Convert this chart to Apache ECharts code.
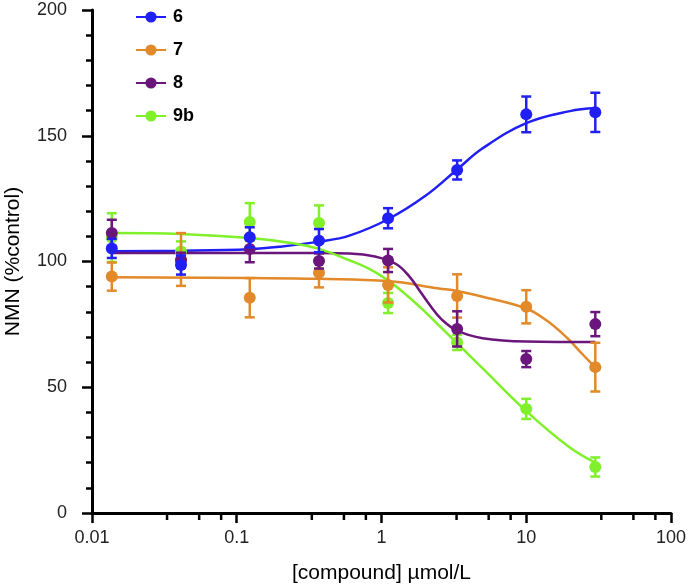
<!DOCTYPE html>
<html><head><meta charset="utf-8">
<script src="https://cdn.jsdelivr.net/npm/echarts@6/dist/echarts.min.js"></script>
<style>html,body{margin:0;padding:0;background:#fff}#c{width:689px;height:586px}</style>
</head><body><div id="c"></div>
<script>
// ---- data ----
const seriesNames = ['6', '7', '8', '9b'];
const seriesColors = ['#2020f6', '#e2892a', '#6a167c', '#7ff02a'];
const concentrations = [0.0137, 0.0412, 0.123, 0.370, 1.11, 3.33, 10, 30];

const values6 = [105.2, 98.6, 109.6, 108.3, 117.2, 136.4, 158.5, 159.3];
const errors6 = [3.8, 3.8, 4.0, 4.6, 4.0, 3.8, 7.1, 7.8];
const values7 = [94.0, 100.8, 85.6, 95.5, 90.7, 86.3, 82.0, 58.0];
const errors7 = [5.6, 10.5, 7.8, 5.8, 7.0, 8.6, 6.6, 9.7];
const values8 = [111.3, 100.5, 105.0, 100.2, 100.4, 73.2, 61.2, 75.1];
const errors8 = [5.3, 3.0, 5.3, 3.0, 4.6, 7.0, 3.2, 4.8];
const values9b = [109.5, 104.0, 115.7, 115.3, 83.5, 67.8, 41.4, 18.3];
const errors9b = [9.7, 4.0, 7.5, 7.0, 4.0, 3.0, 4.0, 3.8];

// fitted curves
const curveX6 = [0.0137, 0.041, 0.123, 0.2, 0.37, 0.6, 1.11, 2, 3.33, 5, 10, 20, 30];
const curveY6 = [104.1, 104.3, 104.9, 105.9, 107.9, 110.3, 116.8, 126.0, 136.6, 145.0, 155.0, 159.8, 161.0];
const curveX7 = [0.0137, 0.123, 0.37, 1.11, 2.5, 3.33, 5, 9.9, 13.7, 19.2, 23, 28.5, 30];
const curveY7 = [93.7, 93.4, 93.1, 92.2, 89.3, 88.3, 86.0, 81.4, 76.7, 69.6, 64.8, 59.2, 58.3];
const curveX8 = [0.0137, 0.123, 0.37, 0.6, 0.9, 1.26, 1.56, 1.83, 2.2, 2.6, 3.33, 5, 10, 30];
const curveY8 = [103.4, 103.4, 103.4, 103.2, 102.0, 99.0, 94.0, 88.5, 82.0, 77.0, 72.5, 69.5, 68.2, 68.0];
const curveX9b = [0.0137, 0.041, 0.123, 0.25, 0.37, 0.6, 0.83, 1.11, 1.5, 2, 2.5, 3.33, 5, 10, 20, 30];
const curveY9b = [111.3, 110.9, 109.3, 107.2, 105.0, 100.5, 97.0, 92.5, 86.5, 80.0, 74.5, 67.5, 57.5, 40.5, 26.0, 20.0];

const xTickValues = [0.01, 0.1, 1, 10, 100];
const xTickLabels = ['0.01', '0.1', '1', '10', '100'];
const xMinorTickValues = [0.033, 0.055, 0.078, 0.33, 0.55, 0.78, 3.3, 5.5, 7.8, 33, 55, 78];

// ---- build ----
const FONT = 'Liberation Sans, Arial, Helvetica, sans-serif';
const allValues = [values6, values7, values8, values9b];
const allErrors = [errors6, errors7, errors8, errors9b];
const curveXs = [curveX6, curveX7, curveX8, curveX9b];
const curveYs = [curveY6, curveY7, curveY8, curveY9b];
const pointZ = [8, 6, 7, 5];

const series = [];
seriesNames.forEach((name, k) => {
  series.push({
    type: 'line', name, z: 2,
    data: curveXs[k].map((x, i) => [x, curveYs[k][i]]),
    smooth: 0.4, symbol: 'circle', symbolSize: 11, showSymbol: false,
    lineStyle: { color: seriesColors[k], width: 2.5 },
    itemStyle: { color: seriesColors[k] },
    emphasis: { disabled: true }, silent: true
  });
});
seriesNames.forEach((name, k) => {
  series.push({
    type: 'custom', name: name + ' err', z: pointZ[k],
    data: concentrations.map((x, i) => [x, allValues[k][i] - allErrors[k][i], allValues[k][i] + allErrors[k][i]]),
    encode: { x: 0, y: [1, 2] },
    renderItem(params, api) {
      const lo = api.coord([api.value(0), api.value(1)]);
      const hi = api.coord([api.value(0), api.value(2)]);
      const hw = 5;
      const style = { stroke: seriesColors[k], lineWidth: 2.5, fill: null };
      return { type: 'group', children: [
        { type: 'line', shape: { x1: lo[0], y1: lo[1], x2: hi[0], y2: hi[1] }, style },
        { type: 'line', shape: { x1: lo[0] - hw, y1: lo[1], x2: lo[0] + hw, y2: lo[1] }, style },
        { type: 'line', shape: { x1: hi[0] - hw, y1: hi[1], x2: hi[0] + hw, y2: hi[1] }, style }
      ]};
    },
    silent: true
  });
  series.push({
    type: 'scatter', name, z: pointZ[k],
    data: concentrations.map((x, i) => [x, allValues[k][i]]),
    symbol: 'circle', symbolSize: 12,
    itemStyle: { color: seriesColors[k], opacity: 1 },
    emphasis: { disabled: true }, silent: true
  });
});
series.push({
  type: 'custom', name: 'minor ticks', z: 10, silent: true,
  data: xMinorTickValues.map(v => [v, 0]),
  encode: { x: 0, y: 1 },
  renderItem(params, api) {
    const p = api.coord([api.value(0), 0]);
    return { type: 'line', shape: { x1: p[0], y1: p[1], x2: p[0], y2: p[1] + 7 },
      style: { stroke: '#000', lineWidth: 2.5 } };
  }
});

const option = {
  animation: false,
  backgroundColor: '#fff',
  grid: { left: 92, right: 18, top: 10, bottom: 73, containLabel: false, outerBoundsMode: 'none' },
  legend: {
    data: seriesNames,
    orient: 'vertical', left: 135, top: 8, padding: 0,
    itemWidth: 30, itemHeight: 14, itemGap: 15,
    textStyle: { fontFamily: FONT, fontSize: 18, fontWeight: 'bold', color: '#000', lineHeight: 18, padding: [0, 0, 0, 2] },
    selectedMode: false
  },
  xAxis: {
    type: 'log', logBase: 10, min: 0.01, max: 100,
    name: '[compound] \u00b5mol/L', nameLocation: 'middle', nameGap: 50,
    nameTextStyle: { fontFamily: FONT, fontSize: 21, color: '#000' },
    axisLine: { show: true, lineStyle: { color: '#000', width: 3 } },
    axisTick: { show: true, length: 10, lineStyle: { color: '#000', width: 2.5 } },
    minorTick: { show: false },
    splitLine: { show: false },
    axisLabel: {
      fontFamily: FONT, fontSize: 18, color: '#222', margin: 16,
      formatter: v => {
        let best = 0;
        xTickValues.forEach((t, i) => { if (Math.abs(Math.log10(t) - Math.log10(v)) < Math.abs(Math.log10(xTickValues[best]) - Math.log10(v))) best = i; });
        return xTickLabels[best];
      }
    }
  },
  yAxis: {
    type: 'value', min: 0, max: 200, interval: 50,
    name: 'NMN (%control)', nameLocation: 'middle', nameGap: 68,
    nameTextStyle: { fontFamily: FONT, fontSize: 21, color: '#000' },
    axisLine: { show: true, lineStyle: { color: '#000', width: 3 } },
    axisTick: { show: true, length: 10, lineStyle: { color: '#000', width: 2.5 } },
    minorTick: { show: true, splitNumber: 5, length: 6, lineStyle: { color: '#000', width: 2.5 } },
    splitLine: { show: false },
    axisLabel: { fontFamily: FONT, fontSize: 18, color: '#222', margin: 25 }
  },
  series
};
const chart = echarts.init(document.getElementById('c'), null, { renderer: 'canvas' });
chart.setOption(option);
</script></body></html>
